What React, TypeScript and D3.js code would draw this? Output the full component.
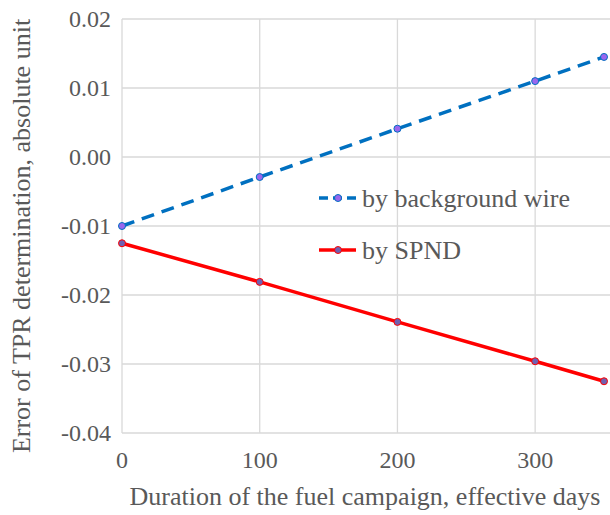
import React, { useEffect, useRef } from "react";
import * as d3 from "d3";

// data
const days = [0, 100, 200, 300, 350];
const byWire = [-0.01, -0.0029, 0.0041, 0.011, 0.0145];
const bySpnd = [-0.0125, -0.0181, -0.0239, -0.0296, -0.0325];
const yTicks = [0.02, 0.01, 0.0, -0.01, -0.02, -0.03, -0.04];
const xTicks = [0, 100, 200, 300];

const W = 610;
const H = 515;

const App = () => {
  const svgRef = useRef<SVGSVGElement>(null);

  useEffect(() => {
    const svg = d3.select(svgRef.current);
    svg.selectAll("*").remove();

    const x = d3.scaleLinear().domain([0, 350]).range([122, 604]);
    const y = d3.scaleLinear().domain([-0.04, 0.02]).range([433, 19]);
    const font = "Liberation Serif";
    const grey = "#595959";

    // grid
    svg
      .append("g")
      .selectAll("line")
      .data(yTicks)
      .enter()
      .append("line")
      .attr("x1", x(0))
      .attr("x2", W)
      .attr("y1", (d) => y(d))
      .attr("y2", (d) => y(d))
      .attr("stroke", "#d9d9d9")
      .attr("stroke-width", 1.3);

    svg
      .append("g")
      .selectAll("line")
      .data(xTicks)
      .enter()
      .append("line")
      .attr("x1", (d) => x(d))
      .attr("x2", (d) => x(d))
      .attr("y1", y(0.02))
      .attr("y2", y(-0.04))
      .attr("stroke", "#d9d9d9")
      .attr("stroke-width", 1.3);

    // tick labels
    svg
      .append("g")
      .selectAll("text")
      .data(yTicks)
      .enter()
      .append("text")
      .attr("x", 111)
      .attr("y", (d) => y(d))
      .attr("dy", "0.33em")
      .attr("text-anchor", "end")
      .attr("font-family", font)
      .attr("font-size", 24)
      .attr("fill", grey)
      .text((d) => d3.format(".2f")(d).replace("−", "-"));

    svg
      .append("g")
      .selectAll("text")
      .data(xTicks)
      .enter()
      .append("text")
      .attr("x", (d) => x(d))
      .attr("y", 468)
      .attr("text-anchor", "middle")
      .attr("font-family", font)
      .attr("font-size", 24)
      .attr("fill", grey)
      .text((d) => String(d));

    // axis titles
    svg
      .append("text")
      .attr("x", 365)
      .attr("y", 505)
      .attr("text-anchor", "middle")
      .attr("font-family", font)
      .attr("font-size", 26)
      .attr("fill", grey)
      .text("Duration of the fuel campaign, effective days");

    svg
      .append("text")
      .attr("transform", `translate(30, 236) rotate(-90)`)
      .attr("text-anchor", "middle")
      .attr("font-family", font)
      .attr("font-size", 26)
      .attr("fill", grey)
      .text("Error of TPR determination, absolute unit");

    const line = d3
      .line<number>()
      .x((d, i) => x(days[i]))
      .y((d) => y(d));

    const series = [
      { vals: byWire, color: "#0070C0", dash: "13,8", marker: "#9966EE", name: "by background wire", ly: 198 },
      { vals: bySpnd, color: "#FF0000", dash: null, marker: "#7060B0", name: "by SPND", ly: 250 },
    ];

    series.forEach((s) => {
      svg
        .append("path")
        .datum(s.vals)
        .attr("d", line)
        .attr("fill", "none")
        .attr("stroke", s.color)
        .attr("stroke-width", 3.5)
        .attr("stroke-dasharray", s.dash);

      svg
        .append("g")
        .selectAll("circle")
        .data(s.vals)
        .enter()
        .append("circle")
        .attr("cx", (d, i) => x(days[i]))
        .attr("cy", (d) => y(d))
        .attr("r", 3.5)
        .attr("fill", s.marker)
        .attr("stroke", s.color)
        .attr("stroke-width", 1);

      // legend
      svg
        .append("line")
        .attr("x1", 319)
        .attr("x2", 356)
        .attr("y1", s.ly)
        .attr("y2", s.ly)
        .attr("stroke", s.color)
        .attr("stroke-width", 3.5)
        .attr("stroke-dasharray", s.dash ? "9,5" : null);
      svg
        .append("circle")
        .attr("cx", 338)
        .attr("cy", s.ly)
        .attr("r", 3.5)
        .attr("fill", s.marker)
        .attr("stroke", s.color)
        .attr("stroke-width", 1);
      svg
        .append("text")
        .attr("x", 362)
        .attr("y", s.ly)
        .attr("dy", "0.33em")
        .attr("font-family", font)
        .attr("font-size", 26)
        .attr("fill", grey)
        .text(s.name);
    });
  }, []);

  return (
    <svg
      ref={svgRef}
      width={W}
      height={H}
      style={{ position: "absolute", left: 0, top: 0, background: "#fff" }}
    />
  );
};

export default App;
